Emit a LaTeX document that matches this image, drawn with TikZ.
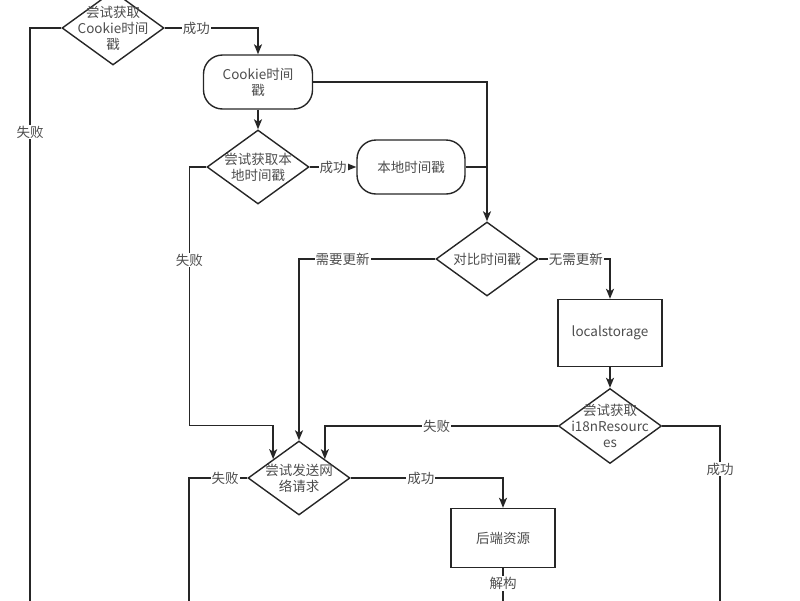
\documentclass[tikz,border=0pt]{standalone}
\usepackage{fontspec}
\setmainfont{Noto Sans CJK SC}
\usetikzlibrary{positioning,shapes.geometric,arrows.meta}
\definecolor{linegray}{HTML}{262626}
\definecolor{textgray}{HTML}{4D4D4D}
\begin{document}
\begin{tikzpicture}[-{Stealth[length=10pt,width=8pt,inset=2.5pt]} ,node distance =54pt and 145pt ,on grid ,
line width=1.4pt ,color=linegray ,text=textgray ,
font=\fontsize{13.5pt}{16pt}\selectfont ,
decision/.style ={diamond ,draw ,aspect=1.38 ,inner sep=-12pt ,
minimum width =102pt ,minimum height =74pt ,align=center},
terminal/.style={rectangle ,rounded corners=19pt ,draw ,minimum width=109pt ,minimum height=54pt ,align=center},
process/.style={rectangle ,draw ,minimum width=104pt ,minimum height=67pt},
cond/.style={fill=white ,inner sep=1pt}
]
\useasboundingbox (0,0) rectangle (800pt,-600pt);
\node[decision] (ck) at (113pt,-28pt) {尝试获取\\Cookie时间\\戳};
\node[terminal] (cts) [below right =54pt and 145pt of ck] {Cookie时间\\戳};
\node[decision] (lo) [below =85pt of cts] {尝试获取本\\地时间戳};
\node[terminal ,minimum width=108pt] (lts) [right =153pt of lo] {本地时间戳};
\node[decision] (cmp) [below right =92pt and 76pt of lts] {对比时间戳};
\node[process] (ls) [below right =74pt and 123pt of cmp] {localstorage};
\node[decision ,minimum width=103pt ,minimum height=75pt] (i18n) [below =93pt of ls] {尝试获取\\i18nResourc\\es};
\node[decision] (req) [below left =219pt and 188pt of cmp] {尝试发送网\\络请求};
\node[process ,minimum height=59pt] (be) [below right =60pt and 204pt of req] {后端资源};
\coordinate (outA) at (30pt,-606pt);
\coordinate (outB) at (189pt,-606pt);
\coordinate (outC) at (720pt,-606pt);
\draw (ck.east) -| node[cond ,pos=0.17] {成功} (cts.north);
\draw[-] (ck.west) -| node[cond ,pos=0.59] {失败} (outA);
\draw (cts.east) -| (cmp.north);
\draw (cts) -- (lo);
\draw (lo) -- node[cond] {成功} (lts);
\draw[-] (lts.east) -- (lts.east -| cmp.north);
\draw (lo.west) -- ++(-17pt,0) |- node[cond ,pos=0.18] {失败} ([yshift=33.5pt]req.north west) -- (req.north west);
\draw (cmp.west) -| node[cond ,pos=0.34] {需要更新} (req.north);
\draw (cmp.east) -| node[cond ,pos=0.26] {无需更新} (ls.north);
\draw (ls) -- (i18n);
\draw (i18n.west) -| node[cond ,pos=0.26] {失败} (req.north east);
\draw[-] (i18n.east) -| node[cond ,pos=0.62] {成功} (outC);
\draw[-] (req.west) -| node[cond ,pos=0.19] {失败} (outB);
\draw (req.east) -| node[cond ,pos=0.23] {成功} (be.north);
\draw[-] (be.south) -- node[cond ,pos=0.4] {解构} (be.south |- outA);
\end{tikzpicture}
\end{document}
